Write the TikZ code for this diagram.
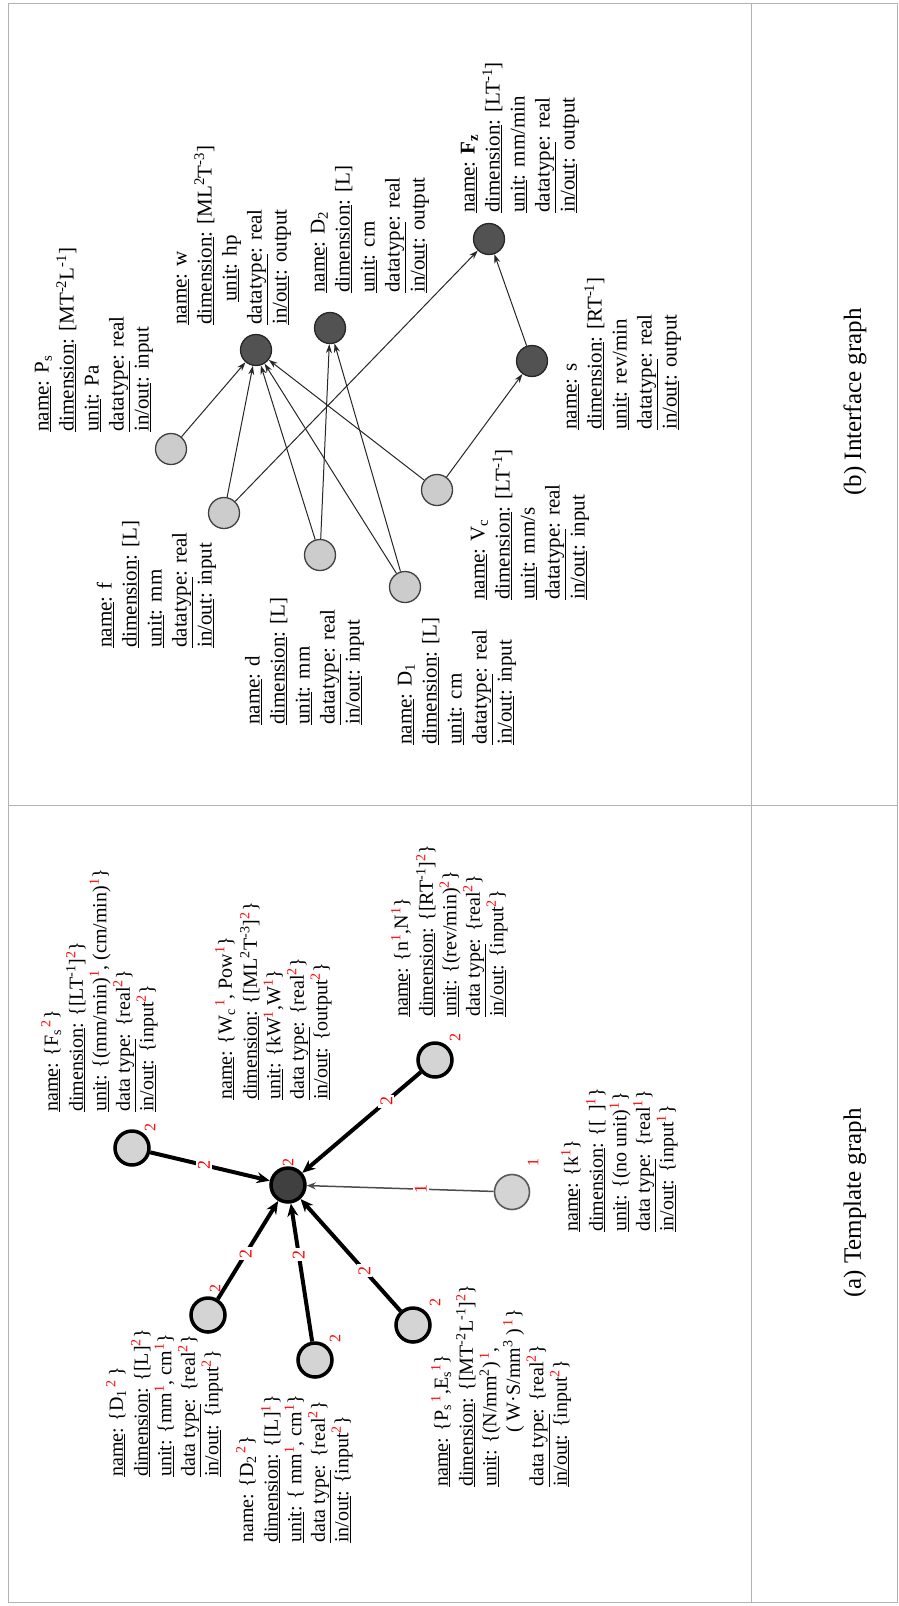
\documentclass[tikz,border=0pt]{standalone}
\usepackage{fontspec}
\setmainfont{Liberation Serif}
\usetikzlibrary{arrows.meta}
\newcommand{\rs}[1]{\textsuperscript{\textcolor{red}{#1}}}
\newcommand{\sps}[1]{\textsuperscript{#1}}
\newcommand{\sbs}[1]{\textsubscript{#1}}
\newcommand{\lbl}[1]{\underline{#1}}
\begin{document}
\begin{tikzpicture}[x=1pt,y=-1pt,
  blkb/.style={rotate=90,anchor=north west,inner sep=0pt,align=left,font=\fontsize{21}{25}\selectfont},
  blka/.style={rotate=90,anchor=north west,inner sep=0pt,align=left,font=\fontsize{20}{23.5}\selectfont},
  lin/.style={circle,draw=black!75,line width=1.3pt,fill=black!20,minimum size=31pt,inner sep=0pt},
  lout/.style={circle,draw=black!85,line width=1.3pt,fill=black!68,minimum size=31pt,inner sep=0pt},
  tin/.style={circle,draw=black,line width=3.5pt,fill=black!17,minimum size=34pt,inner sep=0pt},
  tinthin/.style={circle,draw=black!65,line width=1.6pt,fill=black!17,minimum size=35pt,inner sep=0pt},
  tout/.style={circle,draw=black,line width=3.5pt,fill=black!75,minimum size=34pt,inner sep=0pt},
  barr/.style={-{Stealth[length=9pt,width=6pt]},line width=1pt,black!85},
  tarr/.style={-{Stealth[length=13pt,width=11pt]},line width=4pt,black},
  tthin/.style={-{Stealth[length=9pt,width=7pt]},line width=1.5pt,black!70},
  elab/.style={rotate=90,fill=white,text=red,inner sep=2pt,font=\fontsize{18}{18}\selectfont},
  nlab/.style={rotate=90,text=red,inner sep=0pt,font=\fontsize{16}{16}\selectfont},
  frm/.style={draw=black!30,line width=1pt},
  captext/.style={rotate=90,font=\fontsize{25}{30}\selectfont,inner sep=0pt}
]
\useasboundingbox (0,0) rectangle (899,1606);
% frame
\draw[frm] (8,3) rectangle (897,1602);
\draw[frm] (751,3) -- (751,1602);
\draw[frm] (8,805) -- (897,805);

% ---------- (b) Interface graph ----------
\node[lin] (bPs) at (171,449) {};
\node[lin] (bf) at (224,513) {};
\node[lin] (bd) at (320,555) {};
\node[lin] (bD1) at (405,587) {};
\node[lin] (bVc) at (437,490) {};
\node[lout] (bw) at (256,350) {};
\node[lout] (bD2) at (330,328) {};
\node[lout] (bFz) at (489,239) {};
\node[lout] (bs) at (532,361) {};

\draw[barr] (bPs) -- (bw);
\draw[barr] (bf) -- (bw);
\draw[barr] (bd) -- (bw);
\draw[barr] (bD1) -- (bw);
\draw[barr] (bVc) -- (bw);
\draw[barr] (bd) -- (bD2);
\draw[barr] (bD1) -- (bD2);
\draw[barr] (bf) -- (bFz);
\draw[barr] (bVc) -- (bs);
\draw[barr] (bs) -- (bFz);

\node[blkb] (tbPs) at (31,432) {\strut\lbl{name}: P\sbs{s}\\ \lbl{dimension}: [MT\sps{-2}L\sps{-1}]\\ \lbl{unit}: Pa\\ \lbl{datatype}: real\\ \lbl{in/out}: input};
\node[blkb] (tbw) at (169,325) {\strut\lbl{name}: w\\ \lbl{dimension}: [ML\sps{2}T\sps{-3}]\\ \hspace*{23pt}\lbl{unit}: hp\\ \lbl{datatype}: real\\ \lbl{in/out}: output};
\node[blkb] (tbD2) at (307,293) {\strut\lbl{name}: D\sbs{2}\\ \lbl{dimension}: [L]\\ \lbl{unit}: cm\\ \lbl{datatype}: real\\ \lbl{in/out}: output};
\node[blkb] (tbFz) at (457,213) {\strut\lbl{name}: \textbf{F}\sbs{\textbf{z}}\\ \lbl{dimension}: [LT\sps{-1}]\\ \lbl{unit}: mm/min\\ \lbl{datatype}: real\\ \lbl{in/out}: output};
\node[blkb] (tbs) at (559,430) {\strut\lbl{name}: s\\ \lbl{dimension}: [RT\sps{-1}]\\ \lbl{unit}: rev/min\\ \lbl{datatype}: real\\ \lbl{in/out}: output};
\node[blkb] (tbf) at (94,648) {\strut\lbl{name}: f\\ \lbl{dimension}: [L]\\ \lbl{unit}: mm\\ \lbl{datatype}: real\\ \lbl{in/out}: input};
\node[blkb] (tbd) at (242,725) {\strut\lbl{name}: d\\ \lbl{dimension}: [L]\\ \lbl{unit}: mm\\ \lbl{datatype}: real\\ \lbl{in/out}: input};
\node[blkb] (tbD1) at (394,745) {\strut\lbl{name}: D\sbs{1}\\ \lbl{dimension}: [L]\\ \lbl{unit}: cm\\ \lbl{datatype}: real\\ \lbl{in/out}: input};
\node[blkb] (tbVc) at (467,600) {\strut\lbl{name}: V\sbs{c}\\ \lbl{dimension}: [LT\sps{-1}]\\ \lbl{unit}: mm/s\\ \lbl{datatype}: real\\ \lbl{in/out}: input};

\node[captext] (capb) at (855,402) {(b) Interface graph};

% ---------- (a) Template graph ----------
\node[tout] (C) at (288,1185) {};
\node[tin] (aFs) at (132,1148) {};
\node[tin] (an) at (435,1060) {};
\node[tinthin] (ak) at (512,1192) {};
\node[tin] (aD1) at (208,1315) {};
\node[tin] (aD2) at (315,1360) {};
\node[tin] (aPs) at (413,1325) {};

\draw[tarr] (aFs) -- node[elab,pos=0.45] (eFs) {2} (C);
\draw[tarr] (an) -- node[elab,pos=0.29] (en) {2} (C);
\draw[tthin] (ak) -- node[elab,pos=0.39] (ek) {1} (C);
\draw[tarr] (aD1) -- node[elab,pos=0.46] (eD1) {2} (C);
\draw[tarr] (aD2) -- node[elab,pos=0.63] (eD2) {2} (C);
\draw[tarr] (aPs) -- node[elab,pos=0.36] (ePs) {2} (C);

\node[nlab] (nC) at (288,1162) {2};
\node[nlab] (nFs) at (150,1127) {2};
\node[nlab] (nn) at (455,1037) {2};
\node[nlab] (nk) at (533,1162) {1};
\node[nlab] (nD1) at (215,1288) {2};
\node[nlab] (nD2) at (335,1338) {2};
\node[nlab] (nPs) at (435,1302) {2};

\node[blka] (taFs) at (41,1112) {\strut\lbl{name}: \{F\sbs{s}\rs{\,2}\}\\ \lbl{dimension}: \{[LT\sps{-1}]\rs{2}\}\\ \lbl{unit}: \{(mm/min)\rs{1}, (cm/min)\rs{1}\}\\ \lbl{data type}: \{real\rs{2}\}\\ \lbl{in/out}: \{input\rs{2}\}};
\node[blka] (taW) at (215,1100) {\strut\lbl{name}: \{W\sbs{c}\rs{\,1}, Pow\rs{1}\}\\ \lbl{dimension}: \{[ML\sps{2}T\sps{-3}]\rs{2}\}\\ \lbl{unit}: \{kW\rs{1},W\rs{1}\}\\ \lbl{data type}: \{real\rs{2}\}\\ \lbl{in/out}: \{output\rs{2}\}};
\node[blka] (tan) at (391,1017) {\strut\lbl{name}: \{n\rs{1},N\rs{1}\}\\ \lbl{dimension}: \{[RT\sps{-1}]\rs{2}\}\\ \lbl{unit}: \{(rev/min)\rs{2}\}\\ \lbl{data type}: \{real\rs{2}\}\\ \lbl{in/out}: \{input\rs{2}\}};
\node[blka] (tak) at (561,1232) {\strut\lbl{name}: \{k\rs{1}\}\\ \lbl{dimension}: \{[\ \,]\rs{1}\}\\ \lbl{unit}: \{(no unit)\rs{1}\}\\ \lbl{data type}: \{real\rs{1}\}\\ \lbl{in/out}: \{input\rs{1}\}};
\node[blka] (taD1) at (106,1477) {\strut\lbl{name}: \{D\sbs{1}\rs{\,2}\,\}\\ \lbl{dimension}: \{[L]\rs{2}\}\\ \lbl{unit}: \{mm\rs{1}, cm\rs{1}\}\\ \lbl{data type}: \{real\rs{2}\}\\ \lbl{in/out}: \{input\rs{2}\}};
\node[blka] (taD2) at (236,1543) {\strut name: \{D\sbs{2}\rs{\,2}\}\\ \lbl{dimension}: \{[L]\rs{1}\}\\ \lbl{unit}: \{ mm\rs{1}, cm\rs{1}\}\\ \lbl{data type}: \{real\rs{2}\}\\ \lbl{in/out}: \{input\rs{2}\}};
\node[blka] (taPs) at (431,1487) {\strut\lbl{name}: \{P\sbs{s}\rs{\,1},E\sbs{s}\rs{1}\}\\ \lbl{dimension}: \{[MT\sps{-2}L\sps{-1}]\rs{2}\}\\ \lbl{unit}: \{(N/mm\sps{2})\rs{\,1},\\ \hspace*{54pt}( W·S/mm\sps{3} )\rs{\,1}\}\\ \lbl{data type}: \{real\rs{2}\}\\ \lbl{in/out}: \{input\rs{2}\}};

\node[captext] (capa) at (855,1203) {(a) Template graph};
\end{tikzpicture}
\end{document}
